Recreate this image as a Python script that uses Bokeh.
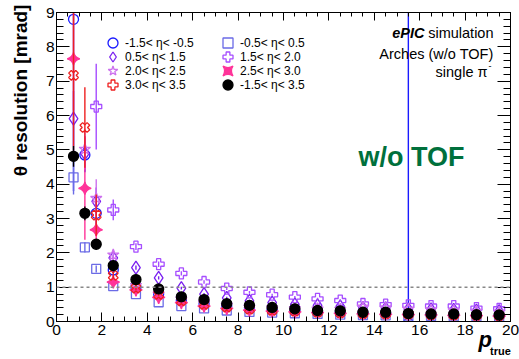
import numpy as np
from math import pi
from bokeh.plotting import figure
from bokeh.models import (Range1d, LinearAxis, SingleIntervalTicker, Span, Label,
                          Legend, LegendItem)
from bokeh.embed import file_html
from bokeh.resources import INLINE

nan = float("nan")
NBSP = "\u00a0"

# ---------------- data ----------------
p_true = [0.75, 1.25, 1.75, 2.5, 3.5, 4.5, 5.5, 6.5, 7.5, 8.5, 9.5,
          10.5, 11.5, 12.5, 13.5, 14.5, 15.5, 16.5, 17.5, 18.5, 19.5]

labels = ["-1.5< \u03b7< -0.5", "-0.5< \u03b7< 0.5", "0.5< \u03b7< 1.5", "1.5< \u03b7< 2.0",
          "2.0< \u03b7< 2.5", "2.5< \u03b7< 3.0", "3.0< \u03b7< 3.5", "-1.5< \u03b7< 3.5"]

res_m15_m05 = [8.8, 4.85, 3.15, 1.5, 1.0, 0.8, 0.62, 0.52, 0.45, 0.4, 0.35,
               0.32, 0.3, 0.28, 0.25, 0.24, -0.05, 0.2, 0.2, 0.18, 0.17]
err_m15_m05 = [5.0, 0.5, 0.5, 0.08, 0.05, 0.04, 0.03, 0.03, 0.02, 0.02, 0.02,
               0.02, 0.02, 0.02, 0.02, 0.02, 10.0, 0.02, 0.02, 0.02, 0.02]

res_m05_05 = [4.2, 2.16, 1.53, 1.03, 0.8, 0.56, 0.45, 0.38, 0.32, 0.28, 0.26,
              0.24, 0.22, 0.2, 0.19, 0.18, 0.17, 0.16, 0.15, 0.15, 0.14]
err_m05_05 = [0.5, 0.15, 0.1, 0.05, 0.04, 0.03, 0.02, 0.02, 0.02, 0.02, 0.02,
              0.02, 0.02, 0.02, 0.02, 0.02, 0.02, 0.02, 0.02, 0.02, 0.02]

res_05_15 = [5.91, 4.9, 3.5, 1.85, 1.57, 1.27, 0.97, 0.8, 0.69, 0.6, 0.55,
             0.5, 0.47, 0.44, 0.4, 0.38, 0.36, 0.35, 0.34, 0.32, 0.3]
err_05_15 = [0.8, 0.5, 0.4, 0.1, 0.06, 0.05, 0.04, 0.03, 0.03, 0.03, 0.02,
             0.02, 0.02, 0.02, 0.02, 0.02, 0.02, 0.02, 0.02, 0.02, 0.02]

res_15_20 = [nan, nan, 6.26, 3.25, 2.18, 1.67, 1.40, 1.15, 0.96, 0.85, 0.78,
             0.71, 0.66, 0.61, 0.51, 0.49, 0.47, 0.45, 0.45, 0.39, 0.37]
err_15_20 = [0.0, 0.0, 1.25, 0.3, 0.1, 0.08, 0.06, 0.05, 0.04, 0.04, 0.03,
             0.03, 0.03, 0.03, 0.03, 0.03, 0.03, 0.03, 0.03, 0.03, 0.03]

res_20_25 = [nan, 5.02, 3.59, 1.94, 1.05, 0.8, 0.65, 0.55, 0.48, 0.42, 0.4,
             0.38, 0.37, 0.36, 0.42, 0.4, 0.36, 0.34, 0.32, 0.3, 0.28]
err_20_25 = [0.0, 0.6, 0.55, 0.15, 0.06, 0.05, 0.04, 0.03, 0.03, 0.03, 0.02,
             0.02, 0.02, 0.02, 0.02, 0.02, 0.02, 0.02, 0.02, 0.02, 0.02]

res_25_30 = [7.65, 3.88, 2.67, 1.15, 0.92, 0.7, 0.55, 0.45, 0.38, 0.33, 0.3,
             0.28, 0.26, 0.24, 0.22, 0.21, 0.2, 0.19, 0.18, 0.17, 0.16]
err_25_30 = [1.5, 1.5, 0.45, 0.1, 0.06, 0.05, 0.04, 0.03, 0.03, 0.02, 0.02,
             0.02, 0.02, 0.02, 0.02, 0.02, 0.02, 0.02, 0.02, 0.02, 0.02]

res_30_35 = [7.17, 5.65, 3.1, 1.34, 0.97, 0.79, 0.6, 0.5, 0.42, 0.36, 0.32,
             0.3, 0.27, 0.25, 0.23, 0.22, 0.21, 0.2, 0.19, 0.18, 0.17]
err_30_35 = [2.2, 1.17, 0.6, 0.08, 0.06, 0.05, 0.04, 0.03, 0.03, 0.02, 0.02,
             0.02, 0.02, 0.02, 0.02, 0.02, 0.02, 0.02, 0.02, 0.02, 0.02]

res_all = [4.81, 3.15, 2.25, 1.63, 1.22, 0.95, 0.72, 0.64, 0.52, 0.47, 0.41,
           0.37, 0.32, 0.31, 0.27, 0.27, 0.23, 0.22, 0.22, 0.2, 0.19]
err_all = [0.3, 0.2, 0.15, 0.05, 0.04, 0.03, 0.03, 0.02, 0.02, 0.02, 0.02,
           0.02, 0.02, 0.02, 0.02, 0.02, 0.02, 0.02, 0.02, 0.02, 0.02]

values = [res_m15_m05, res_m05_05, res_05_15, res_15_20, res_20_25, res_25_30, res_30_35, res_all]
errors = [err_m15_m05, err_m05_05, err_05_15, err_15_20, err_20_25, err_25_30, err_30_35, err_all]

# ---------------- styles ----------------
styles = [
    dict(marker="circle", color="#1a1aff", size=10, fill=False, angle=0.0),
    dict(marker="square", color="#6b6be6", size=9, fill=False, angle=0.0),
    dict(marker="diamond", color="#7a1ff0", size=13, fill=False, angle=0.0),
    dict(marker="plus", color="#a64dff", size=11, fill=False, angle=0.0),
    dict(marker="star", color="#cc70ee", size=12, fill=False, angle=0.0),
    dict(marker="square_pin", color="#ff3399", size=9, fill=True, angle=pi / 4),
    dict(marker="plus", color="#ee2020", size=10, fill=False, angle=pi / 4),
    dict(marker="circle", color="black", size=10, fill=True, angle=0.0),
]

FONT = "Liberation Sans"

p = figure(width=519, height=359, output_backend="svg", toolbar_location=None,
           x_range=Range1d(0, 20), y_range=Range1d(0, 9),
           min_border_left=56, min_border_right=9, min_border_top=12, min_border_bottom=37)
p.xgrid.grid_line_color = None
p.ygrid.grid_line_color = None
p.outline_line_color = "black"
p.outline_line_width = 1
p.background_fill_color = "white"
p.border_fill_color = "white"

def style_axis(ax, interval, nminor, major_in, minor_in, show_labels):
    ax.ticker = SingleIntervalTicker(interval=interval, num_minor_ticks=nminor)
    ax.major_tick_in = major_in
    ax.major_tick_out = 0
    ax.minor_tick_in = minor_in
    ax.minor_tick_out = 0
    ax.axis_line_color = "black"
    ax.major_tick_line_color = "black"
    ax.minor_tick_line_color = "black"
    if show_labels:
        ax.major_label_text_font = FONT
        ax.major_label_text_font_size = "15.5px"
        ax.major_label_text_color = "black"
    else:
        ax.major_label_overrides = {i: "" for i in range(0, 21)}
        ax.major_label_text_font_size = "0px"
        ax.major_label_standoff = 0

style_axis(p.xaxis[0], 2, 4, 9, 5, True)
p.xaxis[0].major_label_standoff = 3
p.xaxis[0].axis_label = None

# y title: centred label, shifted towards the top end with leading no-break spaces
style_axis(p.yaxis[0], 1, 5, 13, 7, True)
p.yaxis[0].major_label_standoff = 2
p.yaxis[0].axis_label = NBSP * 29 + "\u03b8 resolution [mrad]"
p.yaxis[0].axis_label_standoff = 12
p.yaxis[0].axis_label_text_font = FONT
p.yaxis[0].axis_label_text_font_size = "19px"
p.yaxis[0].axis_label_text_font_style = "bold"
p.yaxis[0].axis_label_text_color = "black"

top_ax = LinearAxis()
style_axis(top_ax, 2, 4, 8, 4, False)
p.add_layout(top_ax, "above")
right_ax = LinearAxis()
style_axis(right_ax, 1, 5, 13, 7, False)
p.add_layout(right_ax, "right")

# x-axis title "p_true" carried by two bare axes stacked below the main one
def title_axis(text, size, style, standoff):
    ax = LinearAxis()
    style_axis(ax, 2, 4, 0, 0, False)
    ax.axis_line_color = None
    ax.major_tick_line_color = None
    ax.minor_tick_line_color = None
    ax.axis_label = text
    ax.axis_label_standoff = standoff
    ax.axis_label_text_font = FONT
    ax.axis_label_text_font_size = size
    ax.axis_label_text_font_style = style
    ax.axis_label_text_color = "black"
    p.add_layout(ax, "below")

title_axis(NBSP * 66 + "p", "22px", "bold italic", -11)
title_axis(NBSP * 142 + "true", "11px", "bold", -10)

# reference line at 1 mrad
p.add_layout(Span(location=1, dimension="width", line_color="#888888",
                  line_dash="3 3", line_width=1.5))

x = np.array(p_true)
renderers = []
for vals, errs, st in zip(values, errors, styles):
    v = np.array(vals)
    e = np.array(errs)
    p.segment(x0=x, y0=v - e, x1=x, y1=v + e, line_color=st["color"], line_width=1.4)
    r = p.scatter(x=x, y=v, marker=st["marker"], size=st["size"], angle=st["angle"],
                  line_color=st["color"], line_width=1.3,
                  fill_color=st["color"] if st["fill"] else None)
    renderers.append(r)

# legend: one horizontal legend per row, two entries each
row_pairs = [(0, 1), (2, 3), (4, 5), (6, 7)]
row_centers = [278, 264, 250, 236]
for (a, b), yc in zip(row_pairs, row_centers):
    items = [LegendItem(label=labels[i], renderers=[renderers[i]]) for i in (a, b)]
    lg = Legend(items=items, location=(44, yc - 12), orientation="horizontal",
                glyph_width=25, glyph_height=25, label_height=25, label_width=90,
                spacing=0, label_standoff=0, padding=0, margin=0,
                border_line_color=None, background_fill_alpha=0,
                label_text_font=FONT, label_text_font_size="12px",
                label_text_color="black")
    p.add_layout(lg, "center")

# annotations inside the frame (screen units relative to the plot frame)
def lab(text, x_, y_, size, align="left", baseline="middle", style="normal",
        color="black", angle=0.0):
    p.add_layout(Label(x=x_, y=y_, x_units="screen", y_units="screen", text=text,
                       text_font=FONT, text_font_size=size, text_align=align,
                       text_baseline=baseline, text_font_style=style,
                       text_color=color, angle=angle))

lab("simulation", 437, 289, "14.5px", align="right")
lab("ePIC", 368, 289, "14.5px", align="right", style="bold italic")
lab("Arches (w/o TOF)", 437, 268, "14.5px", align="right")
lab("single \u03c0", 431, 250, "14.5px", align="right")
lab("-", 432, 256, "9px", align="left")
lab("w/o TOF", 355, 165, "27px", align="center", style="bold", color="#00703c")

open("out.html", "w").write(file_html(p, INLINE))
